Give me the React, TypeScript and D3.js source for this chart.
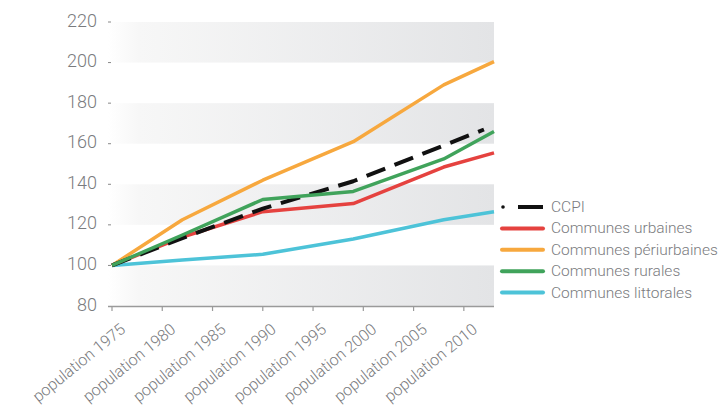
import React from "react";
import * as d3 from "d3";

const yTicks = [80, 100, 120, 140, 160, 180, 200, 220];
const tickYears = [1975, 1980, 1985, 1990, 1995, 2000, 2005, 2010];
const tickLabels = tickYears.map((y) => `population ${y}`);

const censusYears = [1975, 1982, 1990, 1999, 2008, 2013];
const ccpiYears = [1975, 1982, 1990, 1999, 2012];

const ccpi = [100, 113.5, 128, 141.5, 167];
const urbaines = [100, 114, 126.5, 130.5, 148.5, 155.5];
const periurbaines = [100, 122.5, 142, 161, 189, 200.5];
const rurales = [100, 115, 132.5, 136.5, 152.5, 166];
const littorales = [100, 102.7, 105.5, 113, 122.5, 126.5];

const seriesNames = [
  "CCPI",
  "Communes urbaines",
  "Communes périurbaines",
  "Communes  rurales",
  "Communes littorales",
];
const seriesColors = ["#111111", "#e5423f", "#f7a83e", "#40a35b", "#4dc3d8"];

export default function App() {
  const W = 726;
  const H = 408;
  const x = d3.scaleLinear().domain([1975, 2013]).range([112, 494]);
  const y = d3.scaleLinear().domain([80, 220]).range([306, 22]);

  const line = d3
    .line<[number, number]>()
    .x((d) => x(d[0]))
    .y((d) => y(d[1]));

  const mk = (yrs: number[], vals: number[]) =>
    yrs.map((yr, i) => [yr, vals[i]] as [number, number]);

  const series = [
    { data: mk(censusYears, littorales), color: seriesColors[4], dash: undefined },
    { data: mk(censusYears, periurbaines), color: seriesColors[2], dash: undefined },
    { data: mk(censusYears, urbaines), color: seriesColors[1], dash: undefined },
    { data: mk(ccpiYears, ccpi), color: seriesColors[0], dash: "20 10" },
    { data: mk(censusYears, rurales), color: seriesColors[3], dash: undefined },
  ];

  const bands = [
    [200, 220],
    [160, 180],
    [120, 140],
    [80, 100],
  ];

  const textColor = "#7a7b7e";
  const font = "Roboto, 'Noto Sans', sans-serif";
  const legendY0 = 207;
  const legendStep = 21.4;

  return (
    <svg
      width={W}
      height={H}
      style={{ position: "absolute", left: 0, top: 0, display: "block", background: "#fff" }}
    >
      <defs>
        <linearGradient id="bandGrad" x1="0" x2="1" y1="0" y2="0">
          <stop offset="0%" stopColor="#ffffff" />
          <stop offset="8%" stopColor="#f7f7f7" />
          <stop offset="100%" stopColor="#e3e4e6" />
        </linearGradient>
      </defs>
      {bands.map(([a, b], i) => (
        <rect
          key={i}
          x={108}
          width={494 - 108}
          y={y(b)}
          height={y(a) - y(b)}
          fill="url(#bandGrad)"
        />
      ))}
      {yTicks.map((t) => (
        <g key={t}>
          <text
            x={97}
            y={y(t) - 2}
            textAnchor="end"
            dominantBaseline="central"
            fontFamily={font}
            fontWeight={300}
            fontSize={18}
            fill={textColor}
          >
            {t}
          </text>
          {t !== 80 && (
            <line x1={108} x2={111} y1={y(t)} y2={y(t)} stroke="#888" strokeWidth={1} />
          )}
        </g>
      ))}
      <line x1={108} x2={494} y1={306.5} y2={306.5} stroke="#9a9a9a" strokeWidth={1.5} />
      {tickYears.map((yr, i) => (
        <g key={yr}>
          <line x1={x(yr)} x2={x(yr)} y1={306.5} y2={311} stroke="#9a9a9a" strokeWidth={1.2} />
          <text
            transform={`translate(${x(yr) + 11},${327}) rotate(-39)`}
            textAnchor="end"
            dominantBaseline="central"
            fontFamily={font}
            fontWeight={300}
            fontSize={16}
            fill={textColor}
          >
            {tickLabels[i]}
          </text>
        </g>
      ))}
      {series.map((s, i) => (
        <path
          key={i}
          d={line(s.data) || ""}
          fill="none"
          stroke={s.color}
          strokeWidth={s.dash ? 4 : 3.5}
          strokeDasharray={s.dash}
          strokeLinejoin="round"
        />
      ))}
      {seriesNames.map((name, i) => {
        const ly = legendY0 + i * legendStep;
        return (
          <g key={name}>
            {i === 0 ? (
              <>
                <circle cx={503} cy={ly} r={1.8} fill={seriesColors[0]} />
                <line x1={518} x2={543} y1={ly} y2={ly} stroke={seriesColors[0]} strokeWidth={4} />
              </>
            ) : (
              <line
                x1={502}
                x2={543}
                y1={ly}
                y2={ly}
                stroke={seriesColors[i]}
                strokeWidth={4}
                strokeLinecap="round"
              />
            )}
            <text
              x={551}
              y={ly}
              dominantBaseline="central"
              fontFamily={font}
              fontWeight={300}
              fontSize={15.5}
              fill={textColor}
            >
              {name}
            </text>
          </g>
        );
      })}
    </svg>
  );
}
